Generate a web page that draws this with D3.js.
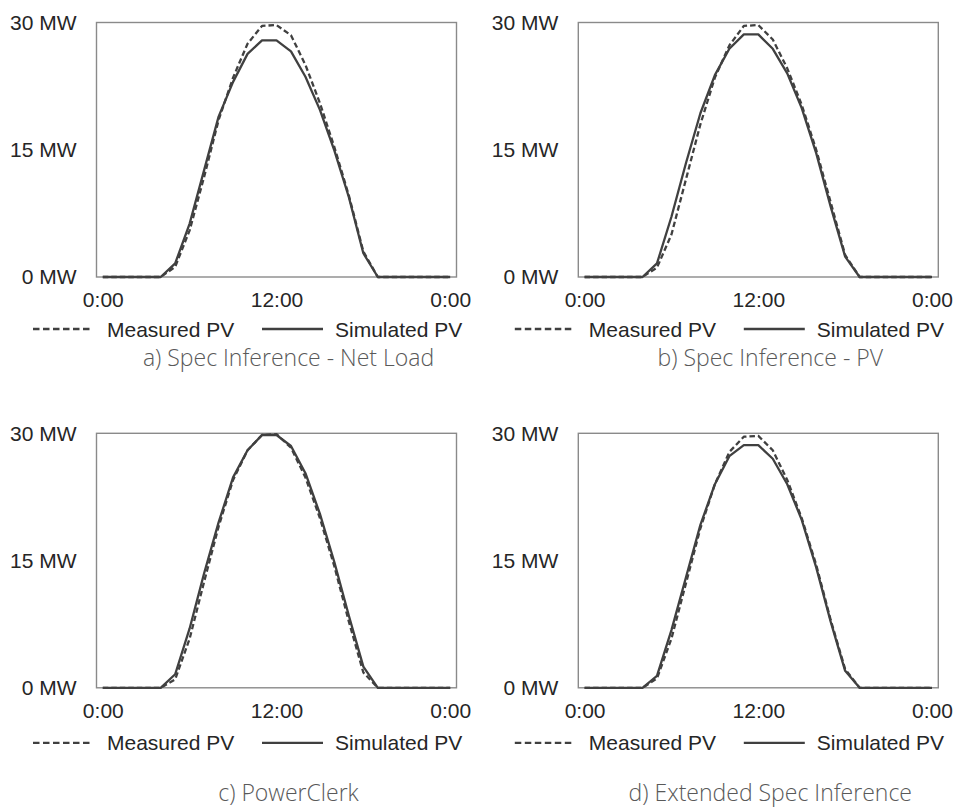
<!DOCTYPE html>
<html><head><meta charset="utf-8">
<script src="https://cdn.jsdelivr.net/npm/d3@7"></script>
<style>
html,body{margin:0;padding:0;background:#fff;}
svg{display:block;}
</style></head>
<body>
<svg id="chart" width="953" height="811"></svg>
<script>
// ---------- data ----------
const hours = [0,1,2,3,4,5,6,7,8,9,10,11,12,13,14,15,16,17,18,19,20,21,22,23,24];
const xTickValues = [0, 12, 24];
const xTickLabels = ["0:00", "12:00", "0:00"];
const yTickValues = [0, 15, 30];
const yTickLabels = ["0 MW", "15 MW", "30 MW"];
const seriesNames = ["Measured PV", "Simulated PV"];
const panelTitles = ["a) Spec Inference - Net Load", "b) Spec Inference - PV", "c) PowerClerk", "d) Extended Spec Inference"];

const measuredA  = [0,0,0,0,0,1.2,5.5,11.8,18.5,23.5,27.5,29.6,29.7,28.5,25.0,20.5,15.3,9.6,3.0,0,0,0,0,0,0];
const simulatedA = [0,0,0,0,0,1.6,6.3,12.6,18.9,23.0,26.3,27.9,27.9,26.6,23.6,19.7,14.9,9.4,2.8,0,0,0,0,0,0];
const measuredB  = [0,0,0,0,0,1.1,5.0,11.5,18.0,23.5,27.3,29.6,29.7,28.0,24.6,20.3,15.0,8.8,2.6,0,0,0,0,0,0];
const simulatedB = [0,0,0,0,0,1.6,7.1,13.4,19.3,23.8,26.9,28.6,28.6,26.9,24.0,19.9,14.6,8.3,2.4,0,0,0,0,0,0];
const measuredC  = [0,0,0,0,0,1.0,5.8,12.5,19.0,24.5,28.0,29.8,29.9,28.3,24.8,20.0,14.3,7.8,1.8,0,0,0,0,0,0];
const simulatedC = [0,0,0,0,0,1.6,7.0,13.5,19.5,24.8,28.0,29.8,29.8,28.5,25.3,20.5,14.8,8.5,2.5,0,0,0,0,0,0];
const measuredD  = [0,0,0,0,0,1.1,5.8,12.3,18.8,24.0,27.8,29.6,29.7,28.0,24.5,20.0,14.5,8.0,2.2,0,0,0,0,0,0];
const simulatedD = [0,0,0,0,0,1.4,6.8,13.0,19.2,24.0,27.3,28.6,28.6,27.0,24.0,19.8,14.2,7.8,2.0,0,0,0,0,0,0];

const panelData = [
  [measuredA, simulatedA],
  [measuredB, simulatedB],
  [measuredC, simulatedC],
  [measuredD, simulatedD]
];

// ---------- layout ----------
const colLeft = [96.5, 578.3];
const rowTop = [22.5, 433.3];
const boxW = 360, boxH = 254.5;
const innerPad = 6.3;
const legendOffset = [52, 55];
const captionOffset = [89, 113];
const lineColor = "#404040";
const dash = "5.5,3";
const axisFont = "'Liberation Sans', Arial, sans-serif";

const svg = d3.select("#chart");

panelData.forEach((series, p) => {
  const col = p % 2, row = Math.floor(p / 2);
  const left = colLeft[col], top = rowTop[row];
  const right = left + boxW, bottom = top + boxH;

  const x = d3.scaleLinear().domain([hours[0], hours[hours.length - 1]]).range([left + innerPad, right - innerPad]);
  const y = d3.scaleLinear().domain([0, 30]).range([bottom, top]);

  const g = svg.append("g");

  // frame
  g.append("rect").attr("x", left).attr("y", top).attr("width", boxW).attr("height", boxH)
    .attr("fill", "none").attr("stroke", "#8a8a8a").attr("stroke-width", 1.4);

  // y axis
  const ya = g.append("g").attr("transform", `translate(${left},0)`)
    .call(d3.axisLeft(y).tickValues(yTickValues).tickSize(0).tickPadding(20)
      .tickFormat((d, i) => yTickLabels[i]));
  ya.select(".domain").remove();
  ya.selectAll("text").attr("font-family", axisFont).attr("font-size", 21).attr("fill", "#262626");

  // x axis
  const xa = g.append("g").attr("transform", `translate(0,${bottom})`)
    .call(d3.axisBottom(x).tickValues(xTickValues).tickSize(0).tickPadding(15)
      .tickFormat((d, i) => xTickLabels[i]));
  xa.select(".domain").remove();
  xa.selectAll("text").attr("font-family", axisFont).attr("font-size", 21).attr("fill", "#262626");

  // lines
  const line = d3.line().x((d, i) => x(hours[i])).y(d => y(d));
  series.forEach((vals, s) => {
    g.append("path").datum(vals).attr("d", line)
      .attr("fill", "none").attr("stroke", lineColor).attr("stroke-width", 2.3)
      .attr("stroke-linejoin", "round")
      .attr("stroke-dasharray", s === 0 ? dash : null);
  });

  // legend
  const ly = bottom + legendOffset[row];
  const legendItems = [
    {name: seriesNames[0], x0: left - 63.5, x1: left - 4.5, tx: left + 10.5, dashed: true},
    {name: seriesNames[1], x0: left + 165.5, x1: left + 226.5, tx: left + 238.5, dashed: false}
  ];
  legendItems.forEach(it => {
    g.append("line").attr("x1", it.x0).attr("x2", it.x1).attr("y1", ly).attr("y2", ly)
      .attr("stroke", lineColor).attr("stroke-width", 2.3)
      .attr("stroke-dasharray", it.dashed ? "6.5,3.5" : null);
    g.append("text").attr("x", it.tx).attr("y", ly + 7.5).text(it.name)
      .attr("font-family", axisFont).attr("font-size", 21).attr("fill", "#262626");
  });

  // caption
  g.append("text").attr("x", left + boxW / 2 + 12).attr("y", bottom + captionOffset[row])
    .attr("text-anchor", "middle").text(panelTitles[p])
    .attr("font-family", "'Open Sans', 'Noto Sans', sans-serif").attr("font-weight", 300)
    .attr("font-size", 23).attr("fill", "#595959");
});
</script>
</body></html>
